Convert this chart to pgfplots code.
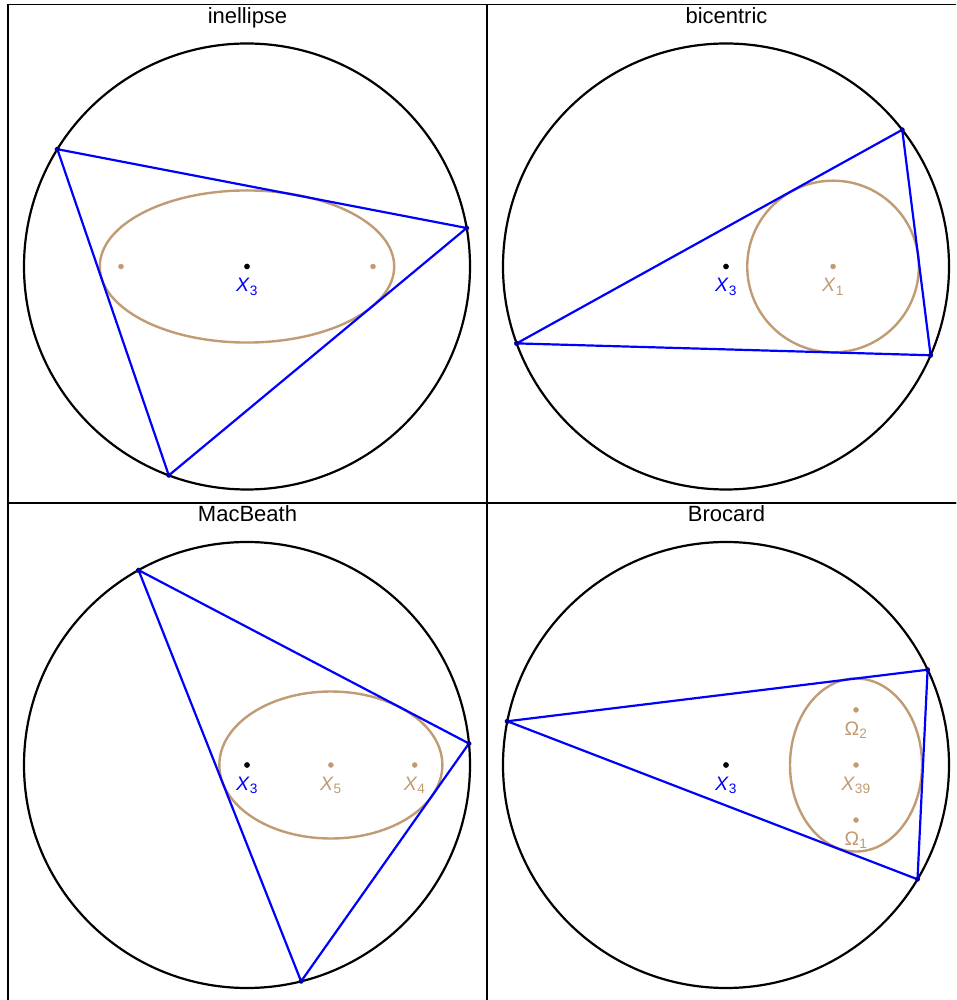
\documentclass[border=0pt]{standalone}
\usepackage{pgfplots}
\pgfplotsset{compat=1.18}
\usepackage{fontspec}
\setmainfont{Liberation Sans}
\definecolor{tanc}{RGB}{192,155,115}
\definecolor{vblue}{RGB}{0,0,255}
\pgfplotsset{
  panel/.style={scale only axis, width=479pt, height=498.5pt,
    xmin=-1.0717, xmax=1.0762, ymin=-1.0605, ymax=1.1749,
    xtick=\empty, ytick=\empty, axis line style={line width=1.8pt},
    title style={at={(0.5,1)}, anchor=base, yshift=-24.8pt, inner sep=0pt,
      font=\fontsize{22}{25}\selectfont}},
  lab/.style={only marks, mark=*, mark size=2.6pt, nodes near coords,
    point meta=explicit symbolic,
    every node near coord/.append style={anchor=base, yshift=-25.5pt, inner sep=0pt,
      font=\fontsize{19.5}{21}\selectfont}},
  tri/.style={vblue, line width=2.2pt, line join=round, mark=*, mark size=1.6pt,
    mark options={fill=vblue!60!black, draw=vblue!60!black}},
}
\tikzset{
  circ/.style={line width=2.2pt},
  conic/.style={tanc, line width=2.4pt},
}
\begin{document}
\begin{tikzpicture}
\path[use as bounding box] (0pt,0pt) rectangle (956pt,1000pt);
\clip (0pt,0pt) rectangle (956pt,1000pt);
% ---------- inellipse ----------
\begin{axis}[panel, at={(8pt,497pt)}, anchor=south west, title={inellipse}]
\draw[circ] (axis cs:0,0) circle[radius=1];
\draw[conic] (axis cs:0,0) ellipse[x radius=0.660, y radius=0.341];
\addplot[tri] coordinates {(-0.8505,0.526) (0.985,0.1726) (-0.3506,-0.9366) (-0.8505,0.526)};
\addplot[only marks, mark=*, mark size=2.5pt, color=tanc] coordinates {(-0.565,0) (0.565,0)};
\addplot[lab, black, every node near coord/.append style={vblue}] coordinates {(0,0) [\textit{X}\textsubscript{3}]};
\end{axis}
% ---------- bicentric ----------
\begin{axis}[panel, at={(487pt,497pt)}, anchor=south west, title={bicentric}]
\draw[circ] (axis cs:0,0) circle[radius=1];
\draw[conic] (axis cs:0.48,0) circle[radius=0.3848];
\addplot[tri] coordinates {(-0.9386,-0.3448) (0.7902,0.6129) (0.9174,-0.398) (-0.9386,-0.3448)};
\addplot[lab, color=tanc, mark size=2.5pt] coordinates {(0.48,0) [\textit{X}\textsubscript{1}]};
\addplot[lab, black, every node near coord/.append style={vblue}] coordinates {(0,0) [\textit{X}\textsubscript{3}]};
\end{axis}
% ---------- MacBeath ----------
\begin{axis}[panel, at={(8pt,-1.5pt)}, anchor=south west, title={MacBeath}]
\draw[circ] (axis cs:0,0) circle[radius=1];
\draw[conic] (axis cs:0.376,0) ellipse[x radius=0.5, y radius=0.3296];
\addplot[tri] coordinates {(-0.4864,0.8738) (0.9953,0.0964) (0.2426,-0.9702) (-0.4864,0.8738)};
\addplot[lab, color=tanc, mark size=2.5pt] coordinates {(0.376,0) [\textit{X}\textsubscript{5}] (0.752,0) [\textit{X}\textsubscript{4}]};
\addplot[lab, black, every node near coord/.append style={vblue}] coordinates {(0,0) [\textit{X}\textsubscript{3}]};
\end{axis}
% ---------- Brocard ----------
\begin{axis}[panel, at={(487pt,-1.5pt)}, anchor=south west, title={Brocard}]
\draw[circ] (axis cs:0,0) circle[radius=1];
\draw[conic] (axis cs:0.583,0) ellipse[x radius=0.296, y radius=0.388];
\addplot[tri] coordinates {(-0.9806,0.1961) (0.904,0.4273) (0.8587,-0.5125) (-0.9806,0.1961)};
\addplot[lab, color=tanc, mark size=2.5pt] coordinates {(0.583,0.247) [Ω\textsubscript{2}] (0.583,0) [\textit{X}\textsubscript{39}] (0.583,-0.247) [Ω\textsubscript{1}]};
\addplot[lab, black, every node near coord/.append style={vblue}] coordinates {(0,0) [\textit{X}\textsubscript{3}]};
\end{axis}
\end{tikzpicture}
\end{document}
